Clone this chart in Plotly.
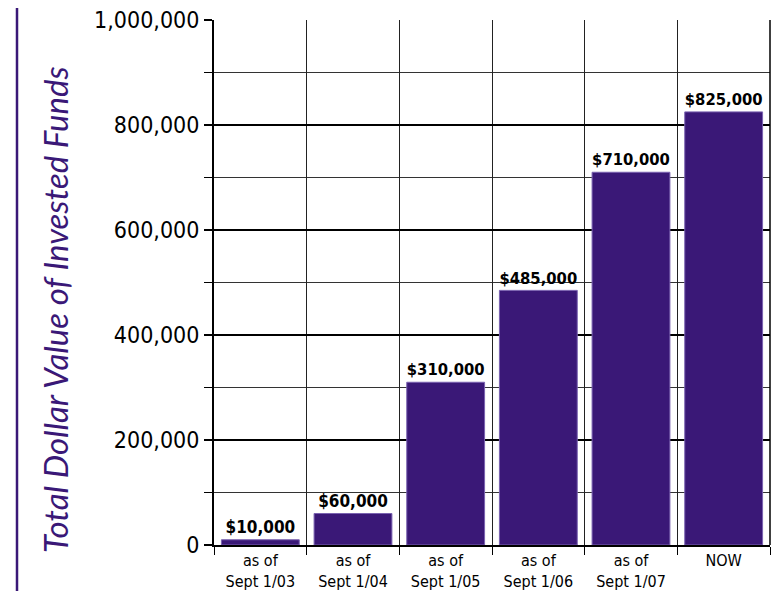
import plotly.graph_objects as go

categories = ["as of<br>Sept 1/03", "as of<br>Sept 1/04", "as of<br>Sept 1/05",
              "as of<br>Sept 1/06", "as of<br>Sept 1/07", "NOW"]
values = [10000, 60000, 310000, 485000, 710000, 825000]
y_tickvals = [0, 200000, 400000, 600000, 800000, 1000000]
y_ticktext = ["0", "200,000", "400,000", "600,000", "800,000", "1,000,000"]

PURPLE = "#3a1877"
NARROW = "DejaVu Sans Condensed, Liberation Sans Narrow, Roboto, sans-serif"

# page body has an 8px margin; plot area should sit at x 214..770, y 20..545
L, R, T, B = 206, 20, 12, 54
PW = 782 - L - R
PH = 591 - T - B

fig = go.Figure(go.Bar(
    x=categories,
    y=values,
    width=0.84,
    marker=dict(color=PURPLE, line=dict(color="#7a62b0", width=1)),
    text=["$" + f"{v:,}" for v in values],
    textposition="outside",
    textfont=dict(family=NARROW, size=17, color="black", weight="bold"),
    cliponaxis=False,
    hoverinfo="skip",
))

fig.update_layout(
    width=782, height=591,
    margin=dict(l=L, r=R, t=T, b=B),
    paper_bgcolor="white", plot_bgcolor="white",
    showlegend=False,
    font=dict(family=NARROW, color="black"),
    xaxis=dict(
        type="category",
        tickson="boundaries",
        automargin=False,
        ticklabeloverflow="allow",
        ticks="outside", ticklen=8, tickwidth=1, tickcolor="black",
        showgrid=True, gridcolor="#222", gridwidth=1,
        showline=True, linecolor="black", linewidth=2,
        tickfont=dict(family=NARROW, size=16, color="black"),
    ),
    yaxis=dict(
        range=[0, 1000000],
        automargin=False,
        ticklabeloverflow="allow",
        tickvals=y_tickvals, ticktext=y_ticktext,
        ticks="outside", ticklen=8, tickwidth=2, tickcolor="black",
        showgrid=True, gridcolor="black", gridwidth=2,
        showline=True, linecolor="black", linewidth=2,
        zeroline=False,
        tickfont=dict(family=NARROW, size=23, color="black"),
        minor=dict(dtick=100000, showgrid=True, gridcolor="#333", gridwidth=1,
                   ticks="outside", ticklen=8, tickcolor="black", tickwidth=1),
    ),
    shapes=[
        dict(type="line", xref="paper", yref="paper",
             x0=(17 - 214) / PW, x1=(17 - 214) / PW,
             y0=-(B + 10) / PH, y1=1 + (T + 10) / PH,
             line=dict(color=PURPLE, width=2.5)),
        dict(type="line", xref="paper", yref="paper",
             x0=1, x1=1, y0=0, y1=1, line=dict(color="black", width=1.5)),
    ],
    annotations=[
        dict(text="<i>Total Dollar Value of Invested Funds</i>",
             xref="paper", yref="paper",
             x=(55 - 214) / PW, y=(545 - 310) / PH,
             xanchor="center", yanchor="middle",
             textangle=-90, showarrow=False,
             font=dict(family="Lato, Open Sans, sans-serif", size=33, color=PURPLE)),
    ],
)

fig.write_html("out.html")
